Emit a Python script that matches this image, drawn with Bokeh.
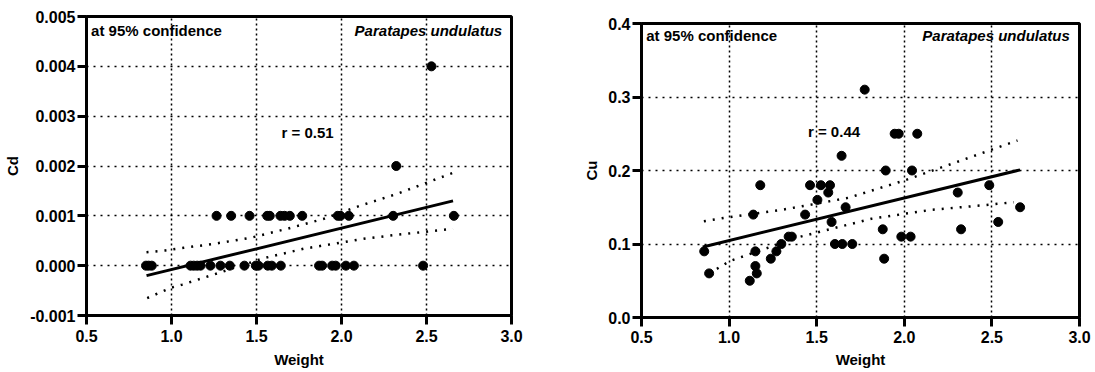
from bokeh.plotting import figure
from bokeh.layouts import row
from bokeh.models import Range1d, FixedTicker, PrintfTickFormatter, Label
from bokeh.embed import file_html
from bokeh.resources import INLINE

FONT = "Liberation Sans"

# ---------------- data: left panel (Cd) ----------------
cd_weight = [0.85, 0.866, 0.884, 1.112, 1.131, 1.151, 1.171, 1.229, 1.288, 1.343,
             1.429, 1.496, 1.512, 1.566, 1.59, 1.643, 1.868, 1.886, 1.945, 1.966,
             2.026, 2.073, 2.48,
             1.265, 1.351, 1.459, 1.563, 1.578, 1.641, 1.665, 1.696, 1.769, 1.978,
             1.994, 2.043, 2.304, 2.661,
             2.322, 2.529]
cd_value = [0.0] * 23 + [0.001] * 14 + [0.002, 0.004]

cd_fit_x = [0.853, 2.656]
cd_fit_y = [-0.0002, 0.0013]
cd_upper_x = [0.853, 0.963, 1.072, 1.249, 1.465, 1.68, 1.896, 2.112, 2.327, 2.651]
cd_upper_y = [0.00027, 0.000304, 0.000358, 0.000438, 0.000559, 0.00074, 0.00094,
              0.001207, 0.001442, 0.001856]
cd_lower_x = [0.857, 1.0, 1.063, 1.229, 1.543, 1.778, 2.131, 2.327, 2.602, 2.656]
cd_lower_y = [-0.00065, -0.00044, -0.00038, -0.0002, 0.00015, 0.00034, 0.00054,
              0.00062, 0.00072, 0.00074]

# ---------------- data: right panel (Cu) ----------------
cu_weight = [0.858, 0.886, 1.118, 1.138, 1.15, 1.15, 1.158, 1.178, 1.238, 1.27,
             1.298, 1.34, 1.358, 1.434, 1.462, 1.504, 1.524, 1.576, 1.566, 1.585,
             1.604, 1.642, 1.646, 1.665, 1.703, 1.774, 1.877, 1.885, 1.894, 1.945,
             1.968, 1.983, 2.036, 2.044, 2.074, 2.305, 2.324, 2.485, 2.536, 2.661]
cu_value = [0.09, 0.06, 0.05, 0.14, 0.09, 0.07, 0.06, 0.18, 0.08, 0.09,
            0.10, 0.11, 0.11, 0.14, 0.18, 0.16, 0.18, 0.18, 0.17, 0.13,
            0.10, 0.22, 0.10, 0.15, 0.10, 0.31, 0.12, 0.08, 0.20, 0.25,
            0.25, 0.11, 0.11, 0.20, 0.25, 0.17, 0.12, 0.18, 0.13, 0.15]

cu_fit_x = [0.85, 2.661]
cu_fit_y = [0.096, 0.2009]
cu_upper_x = [0.856, 0.998, 1.301, 1.495, 1.68, 2.0, 2.324, 2.646]
cu_upper_y = [0.131, 0.1365, 0.1465, 0.1547, 0.1628, 0.1864, 0.2136, 0.2408]
cu_lower_x = [0.886, 1.006, 1.396, 1.547, 1.812, 2.153, 2.438, 2.625]
cu_lower_y = [0.06, 0.077, 0.1093, 0.1184, 0.1343, 0.1465, 0.1524, 0.1569]

x_ticks = [0.5, 1.0, 1.5, 2.0, 2.5, 3.0]
cd_ticks = [-0.001, 0.0, 0.001, 0.002, 0.003, 0.004, 0.005]
cu_ticks = [0.0, 0.1, 0.2, 0.3, 0.4]


def make_panel(xs, ys, fx, fy, ux, uy, lx, ly, yr, yticks, yfmt, ylabel, r_text,
               r_x, r_y, ann_y, ytitle_standoff, xlab_standoff, xtitle_standoff,
               width, height, bl, br, bt, bb):
    p = figure(width=width, height=height, output_backend="svg", toolbar_location=None,
               x_range=Range1d(0.5, 3.0), y_range=Range1d(*yr),
               min_border_left=bl, min_border_right=br, min_border_top=bt,
               min_border_bottom=bb, frame_align=False)
    p.background_fill_color = "white"
    p.border_fill_color = "white"
    p.outline_line_color = "black"
    p.outline_line_width = 3

    for ax in (p.xaxis[0], p.yaxis[0]):
        ax.axis_line_width = 3
        ax.axis_line_color = "black"
        ax.major_tick_line_width = 3
        ax.major_tick_line_color = "black"
        ax.major_tick_out = 9
        ax.major_tick_in = 0
        ax.minor_tick_line_color = None
        ax.major_label_text_font = FONT
        ax.major_label_text_font_style = "bold"
        ax.major_label_text_font_size = "16px"
        ax.major_label_text_color = "black"
        ax.axis_label_text_font = FONT
        ax.axis_label_text_font_style = "bold"
        ax.axis_label_text_font_size = "15px"
        ax.axis_label_text_color = "black"

    p.xaxis.ticker = FixedTicker(ticks=x_ticks)
    p.xaxis.formatter = PrintfTickFormatter(format="%.1f")
    p.xaxis.axis_label = "Weight"
    p.xaxis.major_label_standoff = xlab_standoff
    p.xaxis.axis_label_standoff = xtitle_standoff
    p.yaxis.ticker = FixedTicker(ticks=yticks)
    p.yaxis.formatter = PrintfTickFormatter(format=yfmt)
    p.yaxis.axis_label = ylabel
    p.yaxis.major_label_standoff = 2
    p.yaxis.axis_label_standoff = ytitle_standoff

    p.xgrid.grid_line_color = "black"
    p.xgrid.grid_line_width = 1.5
    p.xgrid.grid_line_dash = "2 3"
    p.ygrid.grid_line_color = "black"
    p.ygrid.grid_line_width = 1.5
    p.ygrid.grid_line_dash = "2 5"

    p.line(ux, uy, line_color="black", line_width=2.5, line_dash="2 7")
    p.line(lx, ly, line_color="black", line_width=2.5, line_dash="2 7")
    p.line(fx, fy, line_color="black", line_width=3)
    p.scatter(xs, ys, size=9, color="black")

    p.add_layout(Label(x=0.527, y=ann_y, text="at 95% confidence", text_font=FONT,
                       text_font_size="15px", text_font_style="bold",
                       text_baseline="middle", text_align="left", text_color="black"))
    p.add_layout(Label(x=2.945, y=ann_y, text="Paratapes undulatus", text_font=FONT,
                       text_font_size="15px", text_font_style="bold italic",
                       text_baseline="middle", text_align="right", text_color="black"))
    p.add_layout(Label(x=r_x, y=r_y, text=r_text, text_font=FONT,
                       text_font_size="15px", text_font_style="bold",
                       text_baseline="middle", text_align="left", text_color="black"))
    return p


H = 372
p1 = make_panel(cd_weight, cd_value, cd_fit_x, cd_fit_y, cd_upper_x, cd_upper_y,
                cd_lower_x, cd_lower_y, (-0.001, 0.005), cd_ticks, "%.3f", "Cd",
                "r = 0.51", 1.647, 0.00268, 0.00471, 6, 5, 6,
                width=580, height=H, bl=86, br=69, bt=16, bb=H - 16 - 299)
p2 = make_panel(cu_weight, cu_value, cu_fit_x, cu_fit_y, cu_upper_x, cu_upper_y,
                cu_lower_x, cu_lower_y, (0.0, 0.4), cu_ticks, "%.1f", "Cu",
                "r = 0.44", 1.45, 0.2526, 0.383, 5, 4, 5,
                width=515, height=H, bl=59, br=16, bt=23, bb=H - 23 - 294)

layout = row(p1, p2)
open("out.html", "w").write(file_html(layout, INLINE))
